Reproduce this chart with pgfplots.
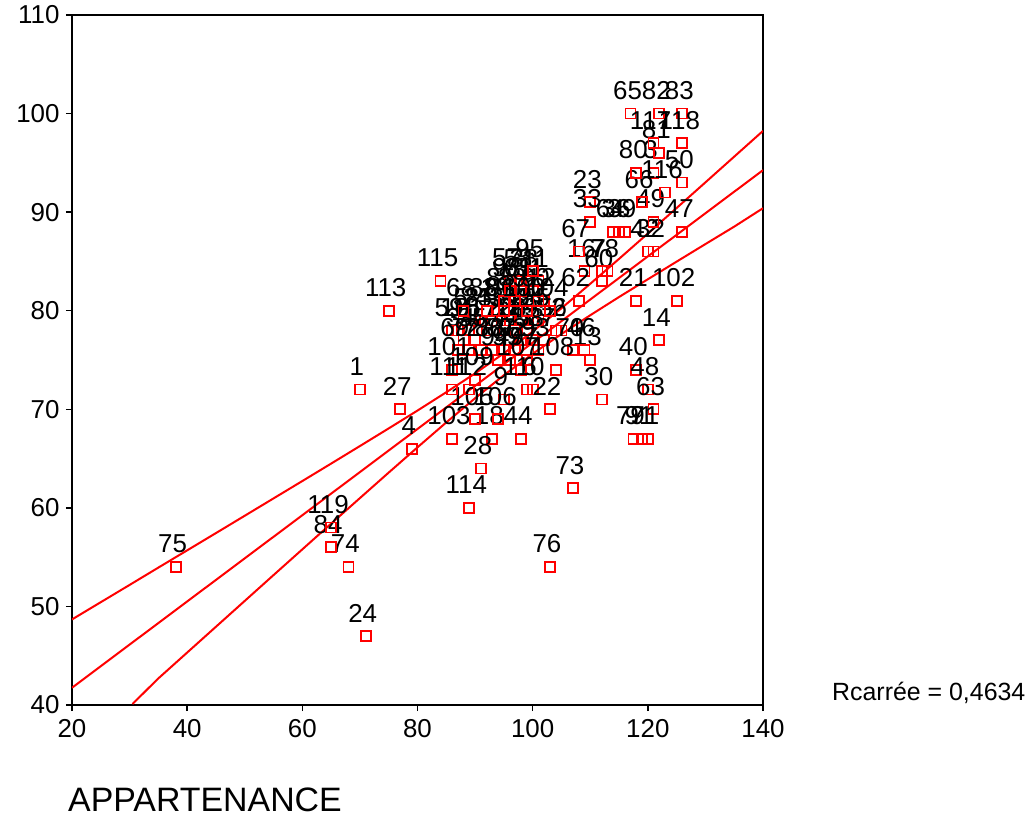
\documentclass[border=0pt]{standalone}
\usepackage{pgfplots}
\pgfplotsset{compat=1.18}
\usepackage{pgfplotstable}
\usepackage{fontspec}
\setmainfont{Liberation Sans}
\usetikzlibrary{calc}

\pgfplotstableread{
id x y
1 70 72
2 105 78
3 121 94
4 79 66
5 88 79
6 100 72
7 112 84
8 90 79
9 95 71
10 87 78
11 101 83
12 102 81
13 110 75
14 122 77
15 89 78
16 109 84
17 92 78
18 93 67
19 94 80
20 95 78
21 118 81
22 103 70
23 110 91
24 71 47
25 91 79
26 97 78
27 77 70
28 91 64
29 99 78
30 112 71
31 100 82
32 121 86
33 110 89
34 88 77
35 90 77
36 115 88
37 102 77
38 99 83
39 116 88
40 118 74
41 96 77
42 120 86
43 93 79
44 98 67
45 98 77
46 109 76
47 126 88
48 120 72
49 121 89
50 126 93
51 96 79
52 98 79
53 98 83
54 100 79
55 101 79
56 104 78
57 96 83
58 100 77
59 86 78
60 112 83
61 98 82
62 108 81
63 121 70
64 114 88
65 117 100
66 119 91
67 108 86
68 88 80
69 87 76
70 107 76
71 120 67
72 89 76
73 107 62
74 68 54
75 38 54
76 103 54
77 91 76
78 113 84
79 117.5 67
80 118 94
81 122 96
82 122 100
83 126 100
84 65 56
85 95 81
86 93 76
87 95 76
88 92 80
89 97 81
90 101 81
91 119 67
92 97 76
93 101 76
94 94 75
95 100 84
96 95 80
97 99 75
98 96 82
99 96 75
100 99 80
101 86 74
102 125 81
103 86 67
104 103 80
105 90 69
106 94 69
107 98 74
108 104 74
109 90 73
110 99 72
111 86 72
112 89 72
113 75 80
114 89 60
115 84 83
116 123 92
117 121 97
118 126 97
119 65 58
}\pointsdata

\pgfplotstableread{
x y
20 41.75
140 94.26
}\fitline

\pgfplotstableread{
x y
20 48.68
25 50.43
30 52.18
35 53.94
40 55.69
45 57.44
50 59.20
55 60.96
60 62.72
65 64.49
70 66.27
75 68.06
80 69.87
85 71.73
90 73.64
95 75.68
100 77.89
105 80.25
110 82.73
115 85.26
120 87.83
125 90.42
130 93.02
135 95.63
140 98.24
}\upperline

\pgfplotstableread{
x y
30.5 40.10
35 42.70
40 45.32
45 47.94
50 50.56
55 53.18
60 55.79
65 58.40
70 60.99
75 63.58
80 66.14
85 68.67
90 71.12
95 73.46
100 75.63
105 77.64
110 79.54
115 81.39
120 83.19
125 84.98
130 86.76
135 88.53
140 90.40
}\lowerline

\begin{document}
\begin{tikzpicture}
\begin{axis}[
  scale only axis,
  width=691bp, height=690bp,
  xmin=20, xmax=140, ymin=40, ymax=110,
  xtick={20,40,...,140}, ytick={40,50,...,110},
  tick align=outside,
  xtick pos=left, ytick pos=left,
  major tick length=6bp,
  axis line style={line width=2.5bp, black},
  tick style={line width=1.5bp, black},
  xticklabel={\fontsize{26}{28}\selectfont\pgfmathprintnumber[assume math mode=true]{\tick}},
  yticklabel={\fontsize{26}{28}\selectfont\pgfmathprintnumber[assume math mode=true]{\tick}},
  xticklabel style={yshift=-5bp},
  yticklabel style={xshift=-3bp},
]
\coordinate (sw) at (rel axis cs:0,0);
\coordinate (ne) at (rel axis cs:1,1);
\coordinate (se) at (rel axis cs:1,0);
\addplot[red, line width=2bp, no marks] table[x=x,y=y] {\fitline};
\addplot[red, line width=2bp, no marks] table[x=x,y=y] {\upperline};
\addplot[red, line width=2bp, no marks] table[x=x,y=y] {\lowerline};
\addplot[only marks, mark=square, mark size=5bp, red,
  mark options={line width=1.8bp, fill=none},
  nodes near coords, point meta=explicit symbolic,
  nodes near coords style={anchor=center, yshift=23bp, xshift=-3bp,
    font=\fontsize{26}{28}\selectfont, text=black, inner sep=0pt}
] table[x=x, y=y, meta=id] {\pointsdata};
\end{axis}
\node[anchor=west, inner sep=0pt, font=\fontsize{25}{27}\selectfont] at ($(se)+(69bp,12bp)$) {Rcarrée = 0,4634};
\node[anchor=west, inner sep=0pt, font=\fontsize{34}{36}\selectfont] at ($(sw)+(-4bp,-95bp)$) {APPARTENANCE};
\pgfresetboundingbox
\useasboundingbox ($(sw)+(-72bp,-116bp)$) rectangle ($(ne)+(272bp,15bp)$);
\end{tikzpicture}
\end{document}
